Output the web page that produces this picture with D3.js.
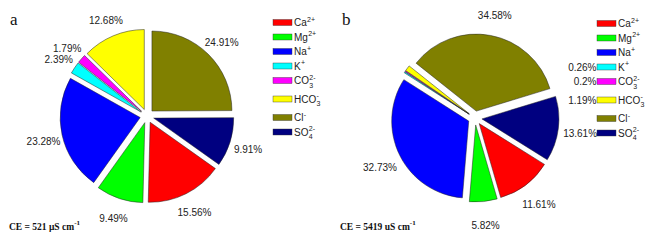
<!DOCTYPE html>
<html>
<head>
<meta charset="utf-8">
<script src="https://cdn.jsdelivr.net/npm/d3@7"></script>
<style>
  body { margin: 0; background: #fff; }
  svg { display: block; }
</style>
</head>
<body>
<div id="chart"></div>
<script>
// ions (legend order = pie order)
const ionBase = ["Ca", "Mg", "Na", "K", "CO", "HCO", "Cl", "SO"];
const ionSup  = ["2+", "2+", "+", "+", "2-", "-", "-", "2-"];
const ionSub  = ["", "", "", "", "3", "3", "", "4"];
const ionColors = ["#ff0000", "#00ff00", "#0000ff", "#00ffff", "#ff00ff", "#ffff00", "#808000", "#000080"];

// percentages
const valuesA = [15.56, 9.49, 23.28, 2.39, 1.79, 12.68, 24.91, 9.91];
const valuesB = [11.61, 5.82, 32.73, 0.26, 0.2, 1.19, 34.58, 13.61];

const panelTags = ["a", "b"];
const ceTexts = ["CE = 521 \u03bcS cm", "CE = 5419 uS cm"];

const width = 651, height = 243;
const svg = d3.select("#chart").append("svg").attr("width", width).attr("height", height);
svg.append("rect").attr("width", width).attr("height", height).attr("fill", "#fff");

const sansFont = "'Liberation Sans', Arial, sans-serif";
const serifFont = "'Liberation Serif', 'Times New Roman', serif";
const deg = Math.PI / 180;

// layout per panel
const panels = [
  { tag: panelTags[0], values: valuesA, ce: ceTexts[0], ox: 0,   cx: 147, cy: 116, r: 80, start: 125.35, legX: 273, legY: 22.5, besideLegend: [] },
  { tag: panelTags[1], values: valuesB, ce: ceTexts[1], ox: 325, cx: 475, cy: 118, r: 77, start: 122,    legX: 597, legY: 23.5, besideLegend: [3, 4, 5] }
];

const explode = 7;
const labelR = 106;

// legend row y: 14.5px rows, a bit more after rows with subscripts
function legendRows(y0) {
  const ys = [];
  let y = y0;
  ionBase.forEach((b, i) => {
    ys.push(y);
    y += 14.5 + (ionSub[i] && i < ionBase.length - 1 ? 4 : 0);
  });
  return ys;
}

panels.forEach(p => {
  const g = svg.append("g");

  const pie = d3.pie().sort(null).value(d => d)
    .startAngle(p.start * deg).endAngle(p.start * deg + 2 * Math.PI);
  const arc = d3.arc().innerRadius(0).outerRadius(p.r);
  const arcs = pie(p.values);

  const pieG = g.append("g").attr("transform", `translate(${p.cx},${p.cy})`);

  // exploded slices
  pieG.selectAll("path.slice")
    .data(arcs)
    .enter().append("path")
    .attr("class", "slice")
    .attr("d", arc)
    .attr("transform", d => {
      const m = (d.startAngle + d.endAngle) / 2;
      return `translate(${explode * Math.sin(m)},${-explode * Math.cos(m)})`;
    })
    .attr("fill", (d, i) => ionColors[i])
    .attr("stroke", "#222")
    .attr("stroke-width", 0.5);

  // percentage labels
  pieG.selectAll("text.pct")
    .data(arcs.filter((d, i) => !p.besideLegend.includes(i)))
    .enter().append("text")
    .attr("class", "pct")
    .attr("x", d => labelR * Math.sin((d.startAngle + d.endAngle) / 2))
    .attr("y", d => -labelR * Math.cos((d.startAngle + d.endAngle) / 2) + 2)
    .attr("text-anchor", "middle")
    .attr("dominant-baseline", "central")
    .style("font-family", sansFont)
    .style("font-size", "10px")
    .style("fill", "#222")
    .text(d => d.data + "%");

  // legend
  const rows = legendRows(p.legY);
  const legG = g.append("g");
  ionBase.forEach((b, i) => {
    const y = rows[i];
    legG.append("rect")
      .attr("x", p.legX).attr("y", y - 3)
      .attr("width", 19).attr("height", 6)
      .attr("fill", ionColors[i])
      .attr("stroke", "#333").attr("stroke-width", 0.4);
    const tx = p.legX + 21;
    const base = legG.append("text")
      .attr("x", tx).attr("y", y + 3.6)
      .style("font-family", sansFont).style("font-size", "10px").style("fill", "#222")
      .text(b);
    const bw = base.node().getComputedTextLength();
    legG.append("text")
      .attr("x", tx + bw + 0.3).attr("y", y - 1)
      .style("font-family", sansFont).style("font-size", "7px").style("fill", "#222")
      .text(ionSup[i]);
    if (ionSub[i]) {
      legG.append("text")
        .attr("x", tx + bw + 0.3).attr("y", y + 7)
        .style("font-family", sansFont).style("font-size", "7px").style("fill", "#222")
        .text(ionSub[i]);
    }
    // small slices whose labels sit next to the legend
    if (p.besideLegend.includes(i)) {
      legG.append("text")
        .attr("x", p.legX - 0.5).attr("y", y + 3.6)
        .attr("text-anchor", "end")
        .style("font-family", sansFont).style("font-size", "10px").style("fill", "#222")
        .text(p.values[i] + "%");
    }
  });

  // panel tag
  g.append("text")
    .attr("x", p.ox + (p.tag === "a" ? 10 : 17)).attr("y", 25)
    .style("font-family", serifFont).style("font-size", "17px").style("fill", "#111")
    .text(p.tag);

  // conductivity note
  const ce = g.append("text")
    .attr("x", p.ox + (p.tag === "a" ? 9 : 15)).attr("y", 229.5)
    .style("font-family", serifFont).style("font-size", "9.5px").style("font-weight", "bold").style("fill", "#111")
    .text(p.ce);
  ce.append("tspan").attr("dy", -4.5).style("font-size", "7px").text("-1");
});
</script>
</body>
</html>
